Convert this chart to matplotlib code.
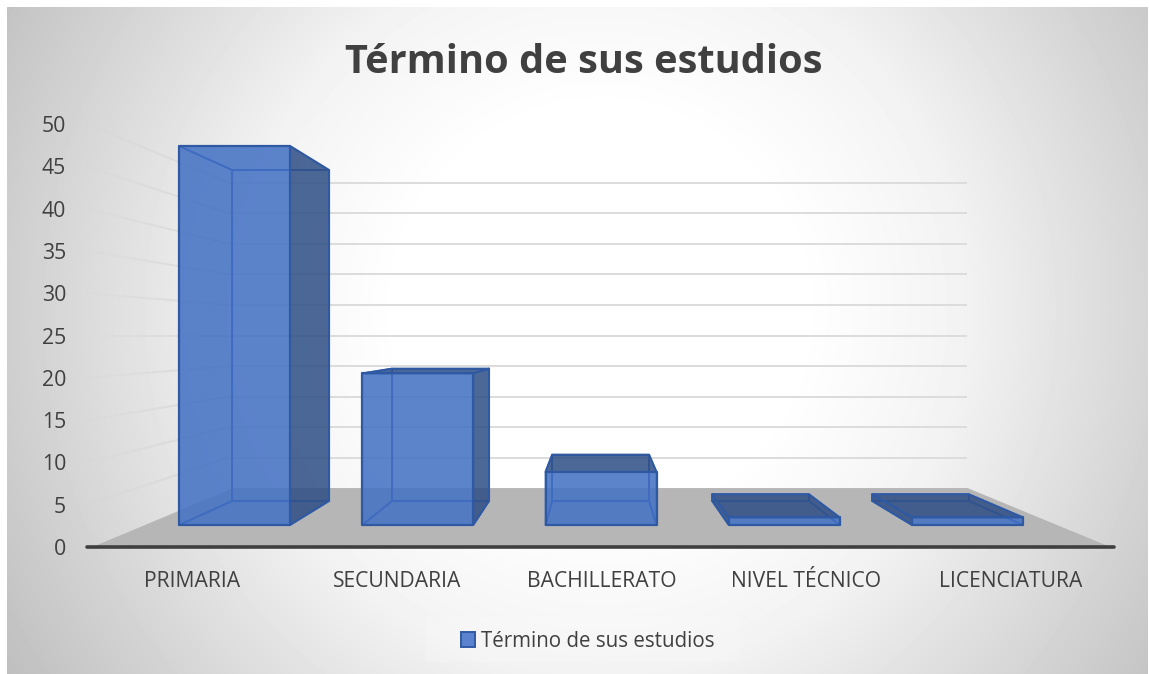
import numpy as np
import matplotlib
matplotlib.use("Agg")
import matplotlib.pyplot as plt
from matplotlib.patches import Polygon, Rectangle
from matplotlib.collections import LineCollection

categories = ["PRIMARIA", "SECUNDARIA", "BACHILLERATO", "NIVEL TÉCNICO", "LICENCIATURA"]
values = [50, 20, 7, 1, 1]
y_ticks = [0, 5, 10, 15, 20, 25, 30, 35, 40, 45, 50]
series_name = "Término de sus estudios"
title_text = "Término de sus estudios"

W, H = 1149, 674
plt.rcParams["font.family"] = ["Open Sans", "DejaVu Sans"]
TXT = "#404040"

# perspective set-up (in figure pixels)
VPX, VPY = 598.0, 335.5
X0, STEP, BW = 179.0, 183.25, 111.0
BASE, PX_PER_UNIT = 525.0, 7.58
K_FRONT, K_BACK, K_FLOOR_F, K_FLOOR_B = 1.0, 0.873, 1.116, 0.805
WORLD_L, WORLD_R = 140.0, 1057.0


def proj(x, v, k):
    y = BASE - v * PX_PER_UNIT
    return (VPX + (x - VPX) * k, VPY + (y - VPY) * k)


fig = plt.figure(figsize=(W / 100, H / 100), dpi=100, facecolor="white")
ax = fig.add_axes([0, 0, 1, 1])
ax.axis("off")

# background radial gradient
xx, yy = np.meshgrid(np.arange(7, 1148), np.arange(7, 675))
rr = np.hypot(xx - 600, yy - 310)
grey = np.interp(rr, [0, 200, 360, 590, 700], [255, 255, 243, 207, 190]) / 255
ax.imshow(grey, cmap="gray", vmin=0, vmax=1, extent=(7, 1148, 675, 7),
          aspect="auto", zorder=0, interpolation="bilinear")
ax.set_xlim(0, W)
ax.set_ylim(H, 0)

# floor
ax.add_patch(Polygon([proj(WORLD_L + 5, 0, K_FLOOR_F), proj(WORLD_R, 0, K_FLOOR_F),
                      proj(WORLD_R, 0, K_FLOOR_B), proj(WORLD_L + 5, 0, K_FLOOR_B)],
                     closed=True, fc="#b6b6b6", ec="none", zorder=1))

# back wall grid lines and faded side wall grid lines
for t in y_ticks[1:]:
    p0 = proj(WORLD_L, t, K_FLOOR_B)
    p1 = proj(WORLD_R, t, K_FLOOR_B)
    ax.plot([p0[0], p1[0]], [p0[1], p1[1]], color="#dcdcdc", lw=1.4, zorder=1.5,
            solid_capstyle="butt")
    ks = np.linspace(K_FLOOR_F, K_FLOOR_B, 25)
    pts = np.array([proj(WORLD_L, t, k) for k in ks])
    segs = np.stack([pts[:-1], pts[1:]], axis=1)
    cols = [(0.82, 0.82, 0.82, a) for a in np.linspace(0.03, 0.8, len(segs))]
    ax.add_collection(LineCollection(segs, colors=cols, linewidths=1.4, zorder=1.5))

# axis line
left = proj(WORLD_L, 0, K_FLOOR_F)
right = proj(WORLD_R, 0, K_FLOOR_F)
ax.plot([left[0], right[0] + 4], [left[1], right[1]], color="#3f3f3f", lw=2.6,
        solid_capstyle="round", zorder=2)

# bars
EDGE = "#2f5aa3"
INNER = "#3f6cc0"
FRONT = "#4472c4"
DARK = "#2f4f86"
z = 3
for i, v in enumerate(values):
    xl = X0 + i * STEP
    xr = xl + BW
    f = {n: proj(x, h, K_FRONT) for n, x, h in
         [("bl", xl, 0), ("br", xr, 0), ("tr", xr, v), ("tl", xl, v)]}
    b = {n: proj(x, h, K_BACK) for n, x, h in
         [("bl", xl, 0), ("br", xr, 0), ("tr", xr, v), ("tl", xl, v)]}
    faces = {
        "back": [b["bl"], b["br"], b["tr"], b["tl"]],
        "bottom": [f["bl"], f["br"], b["br"], b["bl"]],
        "left": [f["bl"], f["tl"], b["tl"], b["bl"]],
        "right": [f["br"], f["tr"], b["tr"], b["br"]],
        "top": [f["tl"], f["tr"], b["tr"], b["tl"]],
    }
    exposed = {
        "right": b["br"][0] > f["br"][0],
        "left": b["bl"][0] < f["bl"][0],
        "top": f["tl"][1] > b["tl"][1],
    }
    # hidden faces: only thin inner lines, seen through the front
    for name in ["back", "bottom", "left", "right", "top"]:
        if not exposed.get(name, False):
            ax.add_patch(Polygon(faces[name], closed=True, fc="none", ec=INNER,
                                 lw=1.2, zorder=z + 0.2, joinstyle="round"))
    # front face
    ax.add_patch(Polygon([f["bl"], f["br"], f["tr"], f["tl"]], closed=True,
                         fc=FRONT, ec="none", alpha=0.87, zorder=z + 0.1))
    # exposed faces
    for name in ["left", "right", "top"]:
        if exposed[name]:
            ax.add_patch(Polygon(faces[name], closed=True, fc=DARK, ec="none",
                                 alpha=0.86, zorder=z + 0.3))
            ax.add_patch(Polygon(faces[name], closed=True, fc="none", ec=EDGE, lw=1.4,
                                 zorder=z + 0.4, joinstyle="round"))
    ax.add_patch(Polygon([f["bl"], f["br"], f["tr"], f["tl"]], closed=True,
                         fc="none", ec=EDGE, lw=1.6, zorder=z + 0.5, joinstyle="round"))

# y tick labels
for t in y_ticks:
    _, py = proj(WORLD_L, t, K_FLOOR_F)
    ax.text(66, py, str(t), ha="right", va="center_baseline", fontsize=15.3, color=TXT, zorder=6)

# category labels
for i, c in enumerate(categories):
    px, _ = proj(X0 + i * STEP + BW / 2, 0, K_FLOOR_F)
    ax.text(px, 579, c, ha="center", va="center_baseline", fontsize=15.2, color=TXT, zorder=6)

# title
ax.text(584, 58, title_text, ha="center", va="center_baseline", fontsize=28.6, fontweight="bold",
        color=TXT, zorder=6)

# legend
ax.add_patch(Rectangle((426, 617), 314, 45, fc="white", alpha=0.2, ec="none", zorder=5))
ax.add_patch(Rectangle((461, 632), 14, 15, fc="#5a82cf", ec=EDGE, lw=1.4, zorder=6))
ax.text(481, 639, series_name, ha="left", va="center_baseline", fontsize=14.8, color=TXT, zorder=6)

fig.savefig("out.png", dpi=100)
